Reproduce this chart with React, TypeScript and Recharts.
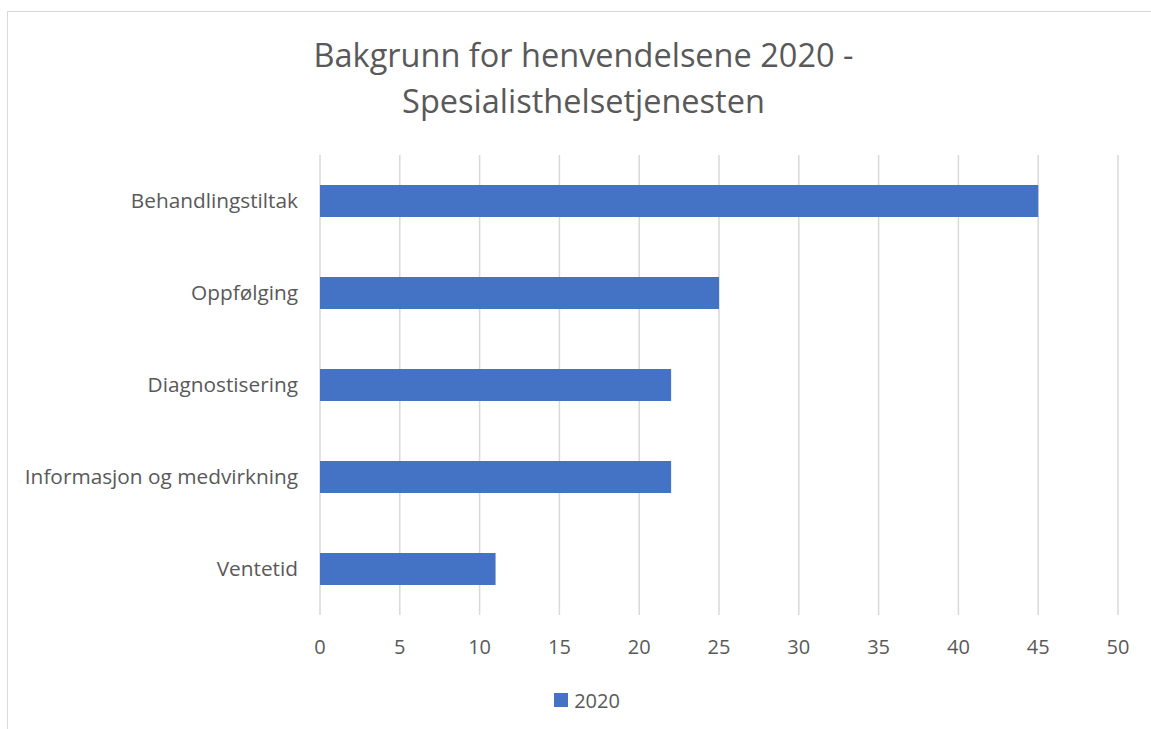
import React from 'react';
import { BarChart, Bar, XAxis, YAxis, CartesianGrid, Legend } from 'recharts';

// Bakgrunn for henvendelsene 2020 - Spesialisthelsetjenesten
const categories = ['Behandlingstiltak', 'Oppfølging', 'Diagnostisering', 'Informasjon og medvirkning', 'Ventetid'];
const values2020 = [45, 25, 22, 22, 11];
const xTicks = [0, 5, 10, 15, 20, 25, 30, 35, 40, 45, 50];

const data = categories.map((name, i) => ({ name, v2020: values2020[i] }));

const FONT = '"Open Sans", sans-serif';
const TEXT = '#595959';
const BLUE = '#4472c4';

const LegendBox = () => (
  <div style={{ height: 40, display: 'flex', alignItems: 'center', justifyContent: 'center', paddingLeft: 56 }}>
    <span style={{ width: 14, height: 14, background: BLUE, display: 'inline-block', marginRight: 6 }} />
    <span style={{ fontSize: 20, color: TEXT, fontFamily: FONT }}>2020</span>
  </div>
);

const App: React.FC = () => {
  return (
    <div style={{ position: 'absolute', left: 0, top: 0, width: 1151, height: 729, background: '#fff', overflow: 'hidden', fontFamily: FONT }}>
      <div style={{ position: 'absolute', left: 7, top: 11, width: 1300, height: 900, border: '1px solid #d9d9d9' }} />
      <div style={{ position: 'absolute', left: 0, top: 32, width: 1167, textAlign: 'center', color: TEXT, fontSize: 32.5, lineHeight: '46px' }}>
        Bakgrunn for henvendelsene 2020 -<br />Spesialisthelsetjenesten
      </div>
      <div style={{ position: 'absolute', left: 0, top: 0 }}>
        <BarChart width={1151} height={729} data={data} layout="vertical" barSize={32}
          margin={{ top: 155, right: 33, left: 0, bottom: 9 }}>
          <CartesianGrid horizontal={false} stroke="#d9d9d9" strokeWidth={1.5} />
          <XAxis type="number" domain={[0, 50]} ticks={xTicks} axisLine={false} tickLine={false}
            height={65} tickMargin={19} tick={{ fontSize: 20, fill: TEXT, fontFamily: FONT }} />
          <YAxis type="category" dataKey="name" width={320} axisLine={false} tickLine={false}
            tickMargin={16} tick={{ fontSize: 20.8, fill: TEXT, fontFamily: FONT }} />
          <Legend verticalAlign="bottom" content={() => <LegendBox />} />
          <Bar dataKey="v2020" name="2020" fill={BLUE} isAnimationActive={false} />
        </BarChart>
      </div>
    </div>
  );
};

export default App;
